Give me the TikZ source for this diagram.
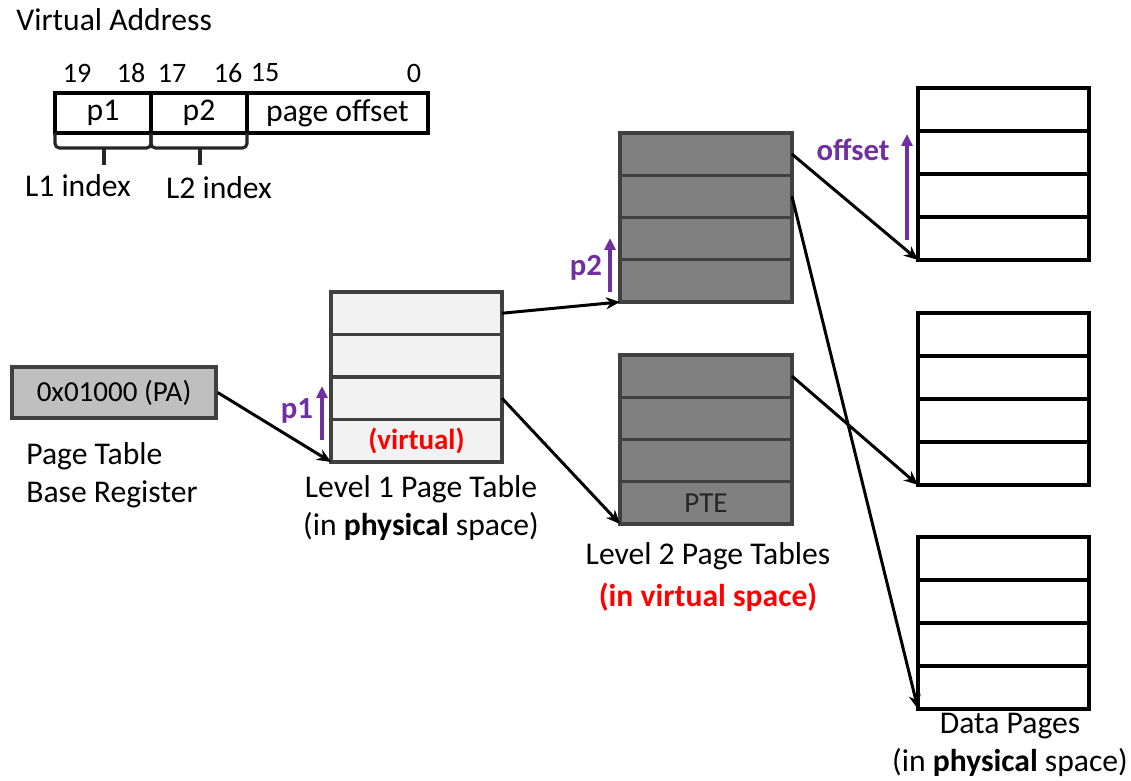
\documentclass[tikz,border=0pt]{standalone}
\usepackage{fontspec}
\setmainfont{Carlito}
\usetikzlibrary{positioning}
\usetikzlibrary{arrows.meta}
\definecolor{idxpurple}{HTML}{7030A0}
\definecolor{tblborder}{HTML}{404040}
\tikzset{
    lbl/.style = {font=\fontsize{18}{21.5}\selectfont, align=center, inner sep=0pt},
    bitno/.style = {font=\fontsize{16}{19}\selectfont, inner sep=0pt},
    field/.style = {rectangle, draw=black, line width=2pt, minimum height=0.8cm, inner sep=0pt, outer sep=0pt, font=\fontsize{18}{21}\selectfont},
    ptbr/.style = {rectangle, draw=tblborder, fill=black!25, line width=1.9pt, minimum width=4.08cm, minimum height=1.02cm, inner sep=0pt, font=\fontsize{16.5}{19}\selectfont},
    rowlone/.style = {rectangle, draw=tblborder, fill=black!5, line width=1.9pt, minimum width=3.42cm, minimum height=0.85cm, inner sep=0pt, outer sep=0pt, font=\bfseries\fontsize{16.5}{19}\selectfont, text=red},
    rowltwo/.style = {rectangle, draw=tblborder, fill=black!50, line width=1.9pt, minimum width=3.44cm, minimum height=0.845cm, inner sep=0pt, outer sep=0pt, font=\fontsize{16.5}{19}\selectfont, text=black!85},
    rowdata/.style = {rectangle, draw=black, fill=white, line width=2.2pt, minimum width=3.42cm, minimum height=0.86cm, inner sep=0pt, outer sep=0pt},
    link/.style = {-{Stealth[length=2.8mm,width=2.4mm]}, line width=1.7pt, black},
    idx/.style = {-{Triangle[length=2.4mm,width=2.2mm]}, line width=1.8pt, idxpurple},
    idxlbl/.style = {font=\bfseries\fontsize{17.5}{20}\selectfont, text=idxpurple, inner sep=0pt},
    brc/.style = {line width=1.8pt, black!85, rounded corners=2.5pt}
}

\begin{document}
\begin{tikzpicture}[x=0.02cm, y=-0.02cm]
  \useasboundingbox (0,0) rectangle (1131,780);

  % virtual address format
  \node[lbl, anchor=west] (vatitle) at (16,20) {Virtual Address};
  \node[field, minimum width=1.92cm, anchor=north west] (p1) at (55,93) {p1};
  \node[field, minimum width=1.92cm, right=0pt of p1] (p2) {p2};
  \node[field, minimum width=3.62cm, right=0pt of p2] (off) {page offset};
  \node[bitno] (b19) at (77,73) {19};
  \node[bitno] (b18) at (131,73) {18};
  \node[bitno] (b17) at (172,73) {17};
  \node[bitno] (b16) at (228,73) {16};
  \node[bitno] (b15) at (265,73) {15};
  \node[bitno] (b0) at (414,73) {0};
  \draw[brc] (p1.south west) -- ++(0,15) -- ++(96,0) -- ++(0,-15);
  \draw[brc] (p1.south) ++(1,15) -- ++(0,17);
  \draw[brc] (p2.south west) -- ++(0,15) -- ++(96,0) -- ++(0,-15);
  \draw[brc] (p2.south) ++(1,15) -- ++(0,17);
  \node[lbl] (l1idx) at (78,186) {L1 index};
  \node[lbl] (l2idx) at (219,188) {L2 index};

  % base register
  \node[ptbr] (base) at (114,392.5) {0x01000 (PA)};
  \node[lbl, align=left, anchor=west] (basecap) at (26,475) {Page Table\\Base Register};

  % level 1 table
  \node[rowlone, anchor=north west] (l1r1) at (331,292) {};
  \node[rowlone, below=0pt of l1r1] (l1r2) {};
  \node[rowlone, below=0pt of l1r2] (l1r3) {};
  \node[rowlone, below=0pt of l1r3] (l1r4) {(virtual)};
  \node[lbl] (l1cap) at (421,508) {Level 1 Page Table\\(in \textbf{physical} space)};

  % level 2 tables
  \node[rowltwo, anchor=north west] (l2a1) at (620,133) {};
  \node[rowltwo, below=0pt of l2a1] (l2a2) {};
  \node[rowltwo, below=0pt of l2a2] (l2a3) {};
  \node[rowltwo, below=0pt of l2a3] (l2a4) {};
  \node[rowltwo, anchor=north west] (l2b1) at (620,355) {};
  \node[rowltwo, below=0pt of l2b1] (l2b2) {};
  \node[rowltwo, below=0pt of l2b2] (l2b3) {};
  \node[rowltwo, below=0pt of l2b3] (l2b4) {PTE};
  \node[lbl] (l2cap) at (708,577) {Level 2 Page Tables\\[2pt]{\color{red}\bfseries (in virtual space)}};

  % data pages
  \node[rowdata, anchor=north west] (d1r1) at (918,88) {};
  \node[rowdata, below=0pt of d1r1] (d1r2) {};
  \node[rowdata, below=0pt of d1r2] (d1r3) {};
  \node[rowdata, below=0pt of d1r3] (d1r4) {};
  \node[rowdata, anchor=north west] (d2r1) at (918,313) {};
  \node[rowdata, below=0pt of d2r1] (d2r2) {};
  \node[rowdata, below=0pt of d2r2] (d2r3) {};
  \node[rowdata, below=0pt of d2r3] (d2r4) {};
  \node[rowdata, anchor=north west] (d3r1) at (918,537) {};
  \node[rowdata, below=0pt of d3r1] (d3r2) {};
  \node[rowdata, below=0pt of d3r2] (d3r3) {};
  \node[rowdata, below=0pt of d3r3] (d3r4) {};
  \node[lbl] (datacap) at (1010,745) {Data Pages\\(in \textbf{physical} space)};

  % index arrows
  \coordinate (p1from) at (322,440);
  \coordinate (p1to) at (322,386);
  \draw[idx] (p1from) -- (p1to);
  \node[idxlbl] (p1lbl) at (297,411) {p1};
  \coordinate (p2from) at (610,292);
  \coordinate (p2to) at (610,238);
  \draw[idx] (p2from) -- (p2to);
  \node[idxlbl] (p2lbl) at (586,268) {p2};
  \coordinate (offfrom) at (907,240);
  \coordinate (offto) at (907,134);
  \draw[idx] (offfrom) -- (offto);
  \node[idxlbl] (offlbl) at (853,150) {offset};

  % pointers
  \draw[link] (base.east) -- (l1r4.south west);
  \draw[link] (l1r1.east) -- (l2a4.south west);
  \draw[link] (l1r3.east) -- (l2b4.south west);
  \draw[link] (l2a1.east) -- (d1r4.south west);
  \draw[link] (l2a2.east) -- (d3r4.south west);
  \draw[link] (l2b1.east) -- (d2r4.south west);
\end{tikzpicture}
\end{document}
